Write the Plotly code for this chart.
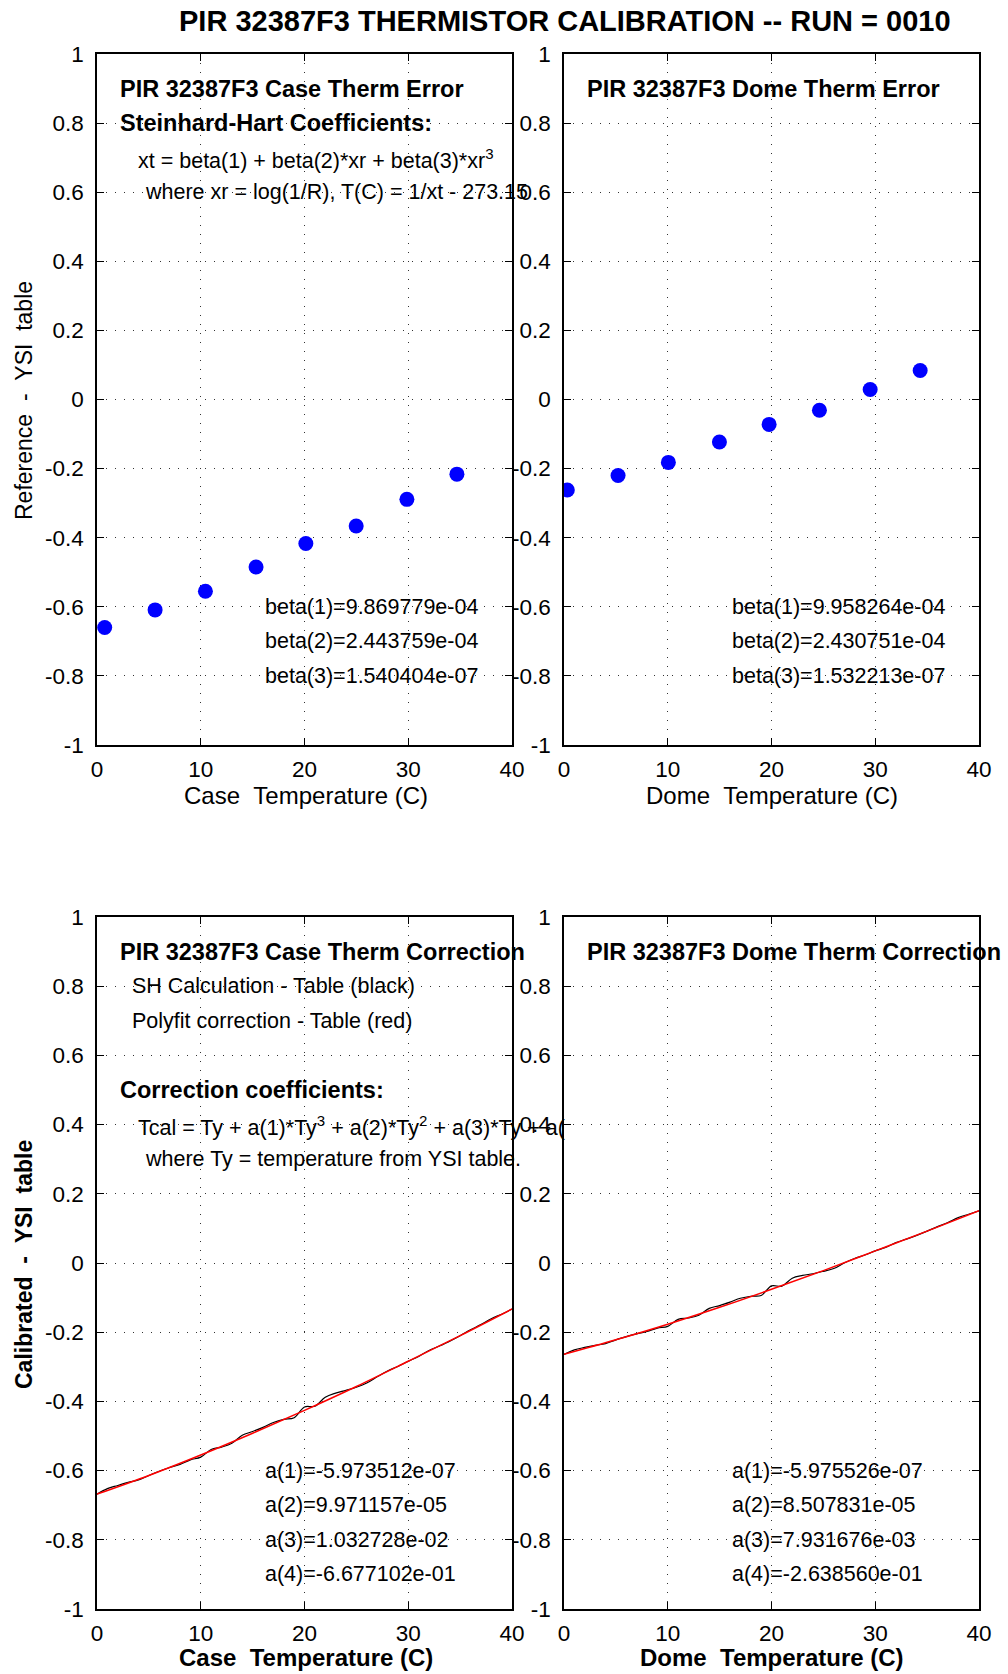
import plotly.graph_objects as go

# ---------------- data ----------------
main_title = "PIR 32387F3 THERMISTOR CALIBRATION -- RUN = 0010"

# Top panels: reference - YSI table error points
case_err_T = [0.74, 5.6, 10.45, 15.33, 20.13, 24.98, 29.87, 34.69]
case_err = [-0.660, -0.609, -0.555, -0.485, -0.417, -0.366, -0.289, -0.216]
dome_err_T = [0.32, 5.21, 10.06, 14.98, 19.77, 24.62, 29.51, 34.33]
dome_err = [-0.262, -0.220, -0.182, -0.123, -0.072, -0.031, 0.029, 0.084]

# Bottom panels: polyfit correction (red)
fit_T = [0, 5, 10, 15, 20, 25, 30, 35, 40]
case_fit = [-0.668, -0.614, -0.555, -0.492, -0.426, -0.357, -0.284, -0.210, -0.133]
dome_fit = [-0.264, -0.222, -0.177, -0.128, -0.076, -0.022, 0.035, 0.092, 0.151]

# Bottom panels: SH calculation - table (black)
sh_T = [0, 1, 2, 3, 4, 5, 6, 7, 8, 9, 10, 11, 12, 13, 14, 15, 16, 17, 18, 19, 20,
        21, 22, 23, 24, 25, 26, 27, 28, 29, 30, 31, 32, 33, 34, 35, 36, 37, 38, 39, 40]
case_sh = [-0.668, -0.652, -0.643, -0.634, -0.627, -0.614, -0.602, -0.591, -0.582, -0.569,
           -0.561, -0.539, -0.532, -0.521, -0.498, -0.487, -0.475, -0.461, -0.452, -0.447,
           -0.416, -0.414, -0.388, -0.376, -0.368, -0.359, -0.347, -0.329, -0.312, -0.299,
           -0.284, -0.270, -0.253, -0.240, -0.226, -0.210, -0.193, -0.178, -0.161, -0.148,
           -0.133]
dome_sh = [-0.264, -0.251, -0.244, -0.238, -0.233, -0.222, -0.213, -0.205, -0.198, -0.188,
           -0.183, -0.163, -0.159, -0.151, -0.131, -0.123, -0.113, -0.102, -0.096, -0.094,
           -0.066, -0.067, -0.044, -0.036, -0.031, -0.024, -0.016, 0.000, 0.013, 0.023,
           0.035, 0.045, 0.059, 0.069, 0.080, 0.092, 0.105, 0.117, 0.131, 0.141,
           0.151]

# ticks
x_tickvals = [0, 10, 20, 30, 40]
x_ticktext = ["0", "10", "20", "30", "40"]
y_tickvals = [1, 0.8, 0.6, 0.4, 0.2, 0, -0.2, -0.4, -0.6, -0.8, -1]
y_ticktext = ["1", "0.8", "0.6", "0.4", "0.2", "0", "-0.2", "-0.4", "-0.6", "-0.8", "-1"]

# annotation texts
case_beta = ["beta(1)=9.869779e-04", "beta(2)=2.443759e-04", "beta(3)=1.540404e-07"]
dome_beta = ["beta(1)=9.958264e-04", "beta(2)=2.430751e-04", "beta(3)=1.532213e-07"]
case_a = ["a(1)=-5.973512e-07", "a(2)=9.971157e-05", "a(3)=1.032728e-02", "a(4)=-6.677102e-01"]
dome_a = ["a(1)=-5.975526e-07", "a(2)=8.507831e-05", "a(3)=7.931676e-03", "a(4)=-2.638560e-01"]

# ---------------- figure ----------------
W, H = 1008, 1674
FONT = "Liberation Sans, Arial, Helvetica, sans-serif"
REG = 21.5
BOLD = 23.5

fig = go.Figure()

def xdom(l, r):
    return [l / W, r / W]

def ydom(t, b):
    return [(H - b) / H, (H - t) / H]

panels = {
    1: (xdom(97, 512), ydom(54, 745)),
    2: (xdom(564, 979), ydom(54, 745)),
    3: (xdom(97, 512), ydom(917, 1609)),
    4: (xdom(564, 979), ydom(917, 1609)),
}

axis_common = dict(
    showline=True, linecolor="black", linewidth=1.5, mirror="ticks",
    ticks="inside", ticklen=7, tickcolor="black", tickwidth=1,
    showgrid=True, gridcolor="#333333", gridwidth=1, griddash="1px,8px",
    zeroline=False, automargin=False,
    tickfont=dict(family=FONT, size=22.5, color="black"),
)

layout = {}
for i, (xd, yd) in panels.items():
    xs = "xaxis" if i == 1 else f"xaxis{i}"
    ys = "yaxis" if i == 1 else f"yaxis{i}"
    layout[xs] = dict(axis_common, domain=xd, anchor=("y" if i == 1 else f"y{i}"),
                      range=[0, 40], tickvals=x_tickvals, ticktext=x_ticktext,
                      ticklabelstandoff=3)
    layout[ys] = dict(axis_common, domain=yd, anchor=("x" if i == 1 else f"x{i}"),
                      range=[-1, 1], tickvals=y_tickvals, ticktext=y_ticktext,
                      ticklabelstandoff=7)

# traces
fig.add_trace(go.Scatter(x=case_err_T, y=case_err, mode="markers",
                         marker=dict(color="#0000ff", size=15), xaxis="x", yaxis="y"))
fig.add_trace(go.Scatter(x=dome_err_T, y=dome_err, mode="markers",
                         marker=dict(color="#0000ff", size=15), xaxis="x2", yaxis="y2"))
fig.add_trace(go.Scatter(x=sh_T, y=case_sh, mode="lines",
                         line=dict(color="black", width=1.2, shape="spline", smoothing=1),
                         xaxis="x3", yaxis="y3"))
fig.add_trace(go.Scatter(x=fit_T, y=case_fit, mode="lines",
                         line=dict(color="#ff0000", width=1.5, shape="spline"),
                         xaxis="x3", yaxis="y3"))
fig.add_trace(go.Scatter(x=sh_T, y=dome_sh, mode="lines",
                         line=dict(color="black", width=1.2, shape="spline", smoothing=1),
                         xaxis="x4", yaxis="y4"))
fig.add_trace(go.Scatter(x=fit_T, y=dome_fit, mode="lines",
                         line=dict(color="#ff0000", width=1.5, shape="spline"),
                         xaxis="x4", yaxis="y4"))

ann = []

def txt(text, x, y, xr, yr, size=REG, bold=False, **kw):
    t = f"<b>{text}</b>" if bold else text
    d = dict(text=t, x=x, y=y, xref=xr, yref=yr, showarrow=False,
             xanchor="left", yanchor="middle",
             font=dict(family=FONT, size=size, color="black"))
    d.update(kw)
    ann.append(d)

# main title
txt(main_title, 565 / W, (H - 21) / H, "paper", "paper", size=29, bold=True, xanchor="center")

# top-left
txt("PIR 32387F3 Case Therm Error", 2.0, 0.90, "x", "y", size=BOLD, bold=True)
txt("Steinhard-Hart Coefficients:", 2.0, 0.80, "x", "y", size=BOLD, bold=True)
txt("xt = beta(1) + beta(2)*xr + beta(3)*xr<sup>3</sup>", 3.8, 0.695, "x", "y")
txt("where xr = log(1/R), T(C) = 1/xt - 273.15", 4.4, 0.60, "x", "y")
for k, s in enumerate(case_beta):
    txt(s, 16.0, -0.60 - 0.10 * k, "x", "y")

# top-right
txt("PIR 32387F3 Dome Therm Error", 2.0, 0.90, "x2", "y2", size=BOLD, bold=True)
for k, s in enumerate(dome_beta):
    txt(s, 16.0, -0.60 - 0.10 * k, "x2", "y2")

# bottom-left
txt("PIR 32387F3 Case Therm Correction", 2.0, 0.90, "x3", "y3", size=BOLD, bold=True)
txt("SH Calculation - Table (black)", 3.2, 0.80, "x3", "y3")
txt("Polyfit correction - Table (red)", 3.2, 0.70, "x3", "y3")
txt("Correction coefficients:", 2.0, 0.50, "x3", "y3", size=BOLD, bold=True)
txt("Tcal = Ty + a(1)*Ty<sup>3</sup> + a(2)*Ty<sup>2</sup> + a(3)*Ty + a(", 3.8, 0.395, "x3", "y3")
txt("where Ty = temperature from YSI table.", 4.4, 0.30, "x3", "y3")
for k, s in enumerate(case_a):
    txt(s, 16.0, -0.60 - 0.10 * k, "x3", "y3")

# bottom-right
txt("PIR 32387F3 Dome Therm Correction", 2.0, 0.90, "x4", "y4", size=BOLD, bold=True)
for k, s in enumerate(dome_a):
    txt(s, 16.0, -0.60 - 0.10 * k, "x4", "y4")

# axis labels
NB = "\u00a0"
txt(f"Case{NB}{NB}Temperature (C)", 306 / W, (H - 795) / H, "paper", "paper", size=24, xanchor="center")
txt(f"Dome{NB}{NB}Temperature (C)", 772 / W, (H - 795) / H, "paper", "paper", size=24, xanchor="center")
txt(f"Case{NB}{NB}Temperature (C)", 306 / W, (H - 1657) / H, "paper", "paper", size=24, bold=True, xanchor="center")
txt(f"Dome{NB}{NB}Temperature (C)", 772 / W, (H - 1657) / H, "paper", "paper", size=24, bold=True, xanchor="center")
txt(f"Reference{NB}{NB}-{NB}{NB}YSI{NB}{NB}table", 24 / W, (H - 401) / H, "paper", "paper",
    size=23, xanchor="center", textangle=-90)
txt(f"Calibrated{NB}{NB}-{NB}{NB}YSI{NB}{NB}table", 24 / W, (H - 1265) / H, "paper", "paper",
    size=23, bold=True, xanchor="center", textangle=-90)

fig.update_layout(
    width=W, height=H,
    margin=dict(l=0, r=0, t=0, b=0, pad=0, autoexpand=False),
    paper_bgcolor="white", plot_bgcolor="white",
    showlegend=False,
    font=dict(family=FONT, color="black"),
    annotations=ann,
    **layout,
)

fig.write_html(
    "out.html",
    config={"displayModeBar": False},
    post_script="document.body.style.margin='0px';document.body.style.padding='0px';"
                "document.body.style.overflow='hidden';",
)
